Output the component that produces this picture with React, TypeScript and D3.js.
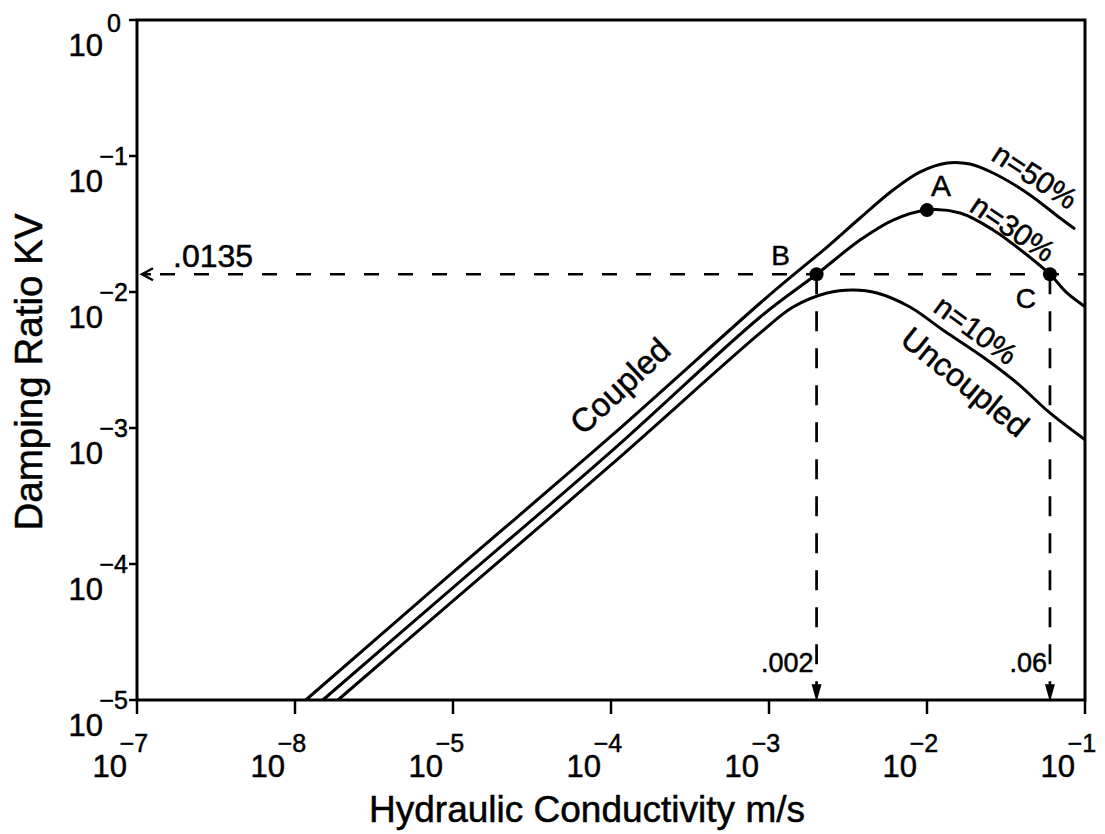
import React from 'react';
import * as d3 from 'd3';

// ---- data ----
const kTicks = [1e-7, 1e-6, 1e-5, 1e-4, 1e-3, 1e-2, 1e-1];
const kTickExp = ['−7', '−8', '−5', '−4', '−3', '−2', '−1'];
const kvTicks = [1, 1e-1, 1e-2, 1e-3, 1e-4, 1e-5];
const kvTickExp = ['0', '−1', '−2', '−3', '−4', '−5'];

const n50K = [1.17e-6, 1e-5, 1e-4, 8.8e-4, 1.42e-3, 2.33e-3, 3.77e-3, 6.1e-3, 9.0e-3, 0.0134, 0.0187, 0.0262, 0.043, 0.0695, 0.0865];
const n50KV = [1e-5, 8.7e-5, 8.7e-4, 8.3e-3, 0.0133, 0.0214, 0.035, 0.0562, 0.0762, 0.0889, 0.0873, 0.075, 0.0535, 0.035, 0.029];

const n30K = [1.5e-6, 1e-5, 1e-4, 8.8e-4, 2.0e-3, 3.77e-3, 6.1e-3, 0.01, 0.0162, 0.0262, 0.043, 0.06, 0.0769, 0.1];
const n30KV = [1e-5, 6.7e-5, 6.7e-4, 6.55e-3, 0.0135, 0.0241, 0.0338, 0.0401, 0.0381, 0.0286, 0.0187, 0.0135, 0.00984, 0.0078];

const n10K = [1.87e-6, 1e-5, 1e-4, 8.8e-4, 1.42e-3, 2.33e-3, 3.4e-3, 4.83e-3, 7.8e-3, 0.0126, 0.0226, 0.0372, 0.06, 0.1];
const n10KV = [1e-5, 5.35e-5, 5.35e-4, 5.0e-3, 7.76e-3, 9.84e-3, 0.01035, 9.84e-3, 7.76e-3, 5.26e-3, 3.33e-3, 2.14e-3, 1.29e-3, 8.2e-4];

const pointNames = ['A', 'B', 'C'];
const pointK = [0.01, 0.002, 0.06];
const pointKV = [0.04, 0.0135, 0.0135];

const refKV = 0.0135;
const refLabel = '.0135';
const dropK = [0.002, 0.06];
const dropLabels = ['.002', '.06'];

const curveLabels = ['n=50%', 'n=30%', 'n=10%', 'Uncoupled', 'Coupled'];

const FONT = '"Liberation Sans", Arial, Helvetica, sans-serif';

export default function App() {
  const W = 1105, H = 834;
  const x = d3.scaleLog().domain([1e-7, 1e-1]).range([137, 1085]);
  const y = d3.scaleLog().domain([1, 1e-5]).range([20, 700]);
  const x0 = x.range()[0], x1 = x.range()[1];
  const y0 = y.range()[0], y1 = y.range()[1];

  const line = d3.line<[number, number]>()
    .x(d => x(d[0]))
    .y(d => y(d[1]))
    .curve(d3.curveCatmullRom.alpha(0.5));

  const series = [
    n50K.map((k, i) => [k, n50KV[i]] as [number, number]),
    n30K.map((k, i) => [k, n30KV[i]] as [number, number]),
    n10K.map((k, i) => [k, n10KV[i]] as [number, number]),
  ];

  const yr = y(refKV);

  const labelPos = [
    { cx: 1035, cy: 176, a: 33, fs: 30 },
    { cx: 1013, cy: 228, a: 34, fs: 30 },
    { cx: 976, cy: 330, a: 36, fs: 30 },
    { cx: 965, cy: 382, a: 39, fs: 32 },
    { cx: 620, cy: 386, a: -43, fs: 33 },
  ];
  const ptLabelOff = [
    { dx: 14, dy: -14, fs: 30 },
    { dx: -36, dy: -9, fs: 28 },
    { dx: -24, dy: 34, fs: 28 },
  ];
  const ts = { fill: '#000', stroke: '#000', strokeWidth: 0.5 };

  return (
    <svg width={W} height={H} style={{ position: 'absolute', left: 0, top: 0, background: '#fff' }}
      fontFamily={FONT}>
      <rect x={0} y={0} width={W} height={H} fill="#fff" />
      {/* frame */}
      <rect x={x0} y={y0} width={x1 - x0} height={y1 - y0} fill="none" stroke="#000" strokeWidth={3} />

      {/* y ticks + labels */}
      {kvTicks.map((v, i) => (
        <g key={'yt' + i}>
          <line x1={x0 - 8} x2={x0} y1={y(v)} y2={y(v)} stroke="#000" strokeWidth={2.5} />
          <text x={103} y={y(v) + 36} fontSize={31} textAnchor="end" {...ts}>10</text>
          <text x={i === 0 ? 121 : 128} y={y(v) + (i === 0 ? 12 : 9)} fontSize={25} textAnchor="end" {...ts}>{kvTickExp[i]}</text>
        </g>
      ))}

      {/* x ticks + labels */}
      {kTicks.map((v, i) => (
        <g key={'xt' + i}>
          <line x1={x(v)} x2={x(v)} y1={y1} y2={y1 + 14} stroke="#000" strokeWidth={2.5} />
          <text x={x(v) - 10} y={777} fontSize={31} textAnchor="end" {...ts}>10</text>
          <text x={x(v) - 3} y={752} fontSize={25} textAnchor="middle" {...ts}>{kTickExp[i]}</text>
        </g>
      ))}

      {/* axis titles */}
      <text x={587} y={822} fontSize={37} textAnchor="middle" textLength={436} lengthAdjust="spacingAndGlyphs" {...ts}>Hydraulic Conductivity m/s</text>
      <text transform={`translate(42,372) rotate(-90)`} fontSize={38} textAnchor="middle" textLength={317} lengthAdjust="spacingAndGlyphs" {...ts}>Damping Ratio KV</text>

      {/* reference dashed lines */}
      <line x1={160} x2={x1} y1={yr} y2={yr} stroke="#000" strokeWidth={2.7} strokeDasharray="15,19" />
      <path d={`M${x0 + 16},${yr - 6} L${x0 + 5},${yr} L${x0 + 16},${yr + 6}`} fill="none" stroke="#000" strokeWidth={2.5} />
      <line x1={x0 + 5} x2={x0 + 14} y1={yr} y2={yr} stroke="#000" strokeWidth={2.5} />
      <text x={173} y={267} fontSize={32} {...ts}>{refLabel}</text>

      {dropK.map((k, i) => (
        <g key={'drop' + i}>
          <line x1={x(k)} x2={x(k)} y1={yr} y2={y1 - 12} stroke="#000" strokeWidth={2.7} strokeDasharray="20,17" />
          <path d={`M${x(k) - 4},${y1 - 15} L${x(k) + 4},${y1 - 15} L${x(k)},${y1 - 1} Z`} fill="#000" stroke="#000" strokeWidth={1.5} />
          <text x={x(k) - 3} y={672} fontSize={27} textAnchor="end" {...ts}>{dropLabels[i]}</text>
        </g>
      ))}

      {/* curves */}
      {series.map((s, i) => (
        <path key={'c' + i} d={line(s) || ''} fill="none" stroke="#000" strokeWidth={3} strokeLinejoin="round" />
      ))}

      {/* points */}
      {pointNames.map((nm, i) => (
        <g key={'p' + i}>
          <circle cx={x(pointK[i])} cy={y(pointKV[i])} r={7} fill="#000" />
          <text x={x(pointK[i]) + ptLabelOff[i].dx} y={y(pointKV[i]) + ptLabelOff[i].dy} fontSize={ptLabelOff[i].fs} textAnchor="middle" {...ts}>{nm}</text>
        </g>
      ))}

      {/* curve labels */}
      {curveLabels.map((t, i) => (
        <text key={'cl' + i} transform={`translate(${labelPos[i].cx},${labelPos[i].cy}) rotate(${labelPos[i].a})`}
          fontSize={labelPos[i].fs} textAnchor="middle" dominantBaseline="central" {...ts}>{t}</text>
      ))}
    </svg>
  );
}
